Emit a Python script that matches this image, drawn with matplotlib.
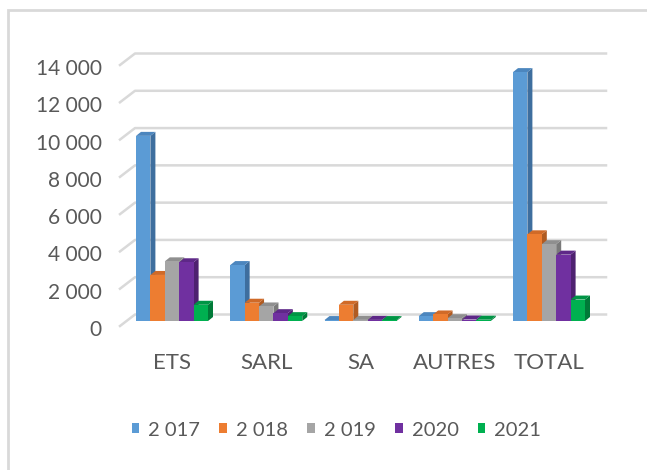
import matplotlib
matplotlib.use("Agg")
import matplotlib.pyplot as plt
from matplotlib.patches import Polygon, Rectangle
from matplotlib.transforms import ScaledTranslation

# data
categories = ["ETS", "SARL", "SA", "AUTRES", "TOTAL"]
series_labels = ["2 017", "2 018", "2 019", "2020", "2021"]
y2017 = [9930, 3000, 50, 260, 13350]
y2018 = [2470, 980, 870, 350, 4650]
y2019 = [3200, 780, 60, 150, 4120]
y2020 = [3150, 420, 60, 80, 3560]
y2021 = [870, 260, 50, 70, 1150]
yticks = [0, 2000, 4000, 6000, 8000, 10000, 12000, 14000]

series = [y2017, y2018, y2019, y2020, y2021]
front_colors = ["#5B9BD5", "#ED7D31", "#A5A5A5", "#7030A0", "#00B050"]
side_colors = ["#3E6E9E", "#B05B22", "#7A7A7A", "#4E2170", "#007A38"]
top_colors = ["#4C86BE", "#D06A28", "#8F8F8F", "#5E2888", "#009545"]

plt.rcParams["font.family"] = ["Lato", "DejaVu Sans"]
text_color = "#595959"

W, H = 647, 470
fig = plt.figure(figsize=(W / 100, H / 100), dpi=100)

# chart border
fig.patches.append(Rectangle((8 / W, -0.01), 1.0, (H - 10) / H + 0.01,
                             transform=fig.transFigure, fill=False,
                             edgecolor="#D9D9D9", linewidth=2))

# axes = plane of the bar fronts
L, R, B, T = 120, 598, 149, 410
ax = fig.add_axes([L / W, B / H, (R - L) / W, (T - B) / H])
cat_px = 94.25
x0 = -(172 - L) / cat_px
x1 = x0 + (R - L) / cat_px
ax.set_xlim(x0, x1)
ax.set_ylim(0, 14000)
sx = cat_px                       # px per category
sy = (T - B) / 14000              # px per unit

for s in ax.spines.values():
    s.set_visible(False)

# back wall gridlines with a short diagonal at the left
for v in yticks:
    fx, fy = x0, v - 5 / sy
    bx, by = x0 + 15 / sx, v + 6.5 / sy
    ax.plot([fx, bx, x1 + 8 / sx], [fy, by, by], color="#D9D9D9",
            lw=1.8, zorder=0, clip_on=False)

# 3D-looking bars
n = len(series)
w = 14.4 / sx
ddx, ddy = 5 / sx, 4 / sy
for j, vals in enumerate(series):
    for i, v in enumerate(vals):
        left = i + (j - n / 2) * w
        right = left + w
        side = [(right, 0), (right + ddx, ddy), (right + ddx, v + ddy), (right, v)]
        top = [(left, v), (left + ddx, v + ddy), (right + ddx, v + ddy), (right, v)]
        ax.add_patch(Polygon(side, closed=True, facecolor=side_colors[j],
                             edgecolor="none", zorder=2 + j, clip_on=False))
        ax.add_patch(Polygon(top, closed=True, facecolor=top_colors[j],
                             edgecolor="none", zorder=2 + j, clip_on=False))
        ax.add_patch(Rectangle((left, 0), w, v, facecolor=front_colors[j],
                               edgecolor="none", zorder=2 + j, clip_on=False))

ax.set_yticks(yticks)
ax.set_yticklabels([f"{t:,}".replace(",", " ") for t in yticks])
ax.set_xticks(range(len(categories)))
ax.set_xticklabels(categories)
ax.tick_params(axis="y", length=0, pad=13, labelsize=15, labelcolor=text_color)
ax.tick_params(axis="x", length=0, pad=23, labelsize=16, labelcolor=text_color)
for lab in ax.get_yticklabels():
    lab.set_transform(lab.get_transform() + ScaledTranslation(0, -0.07, fig.dpi_scale_trans))

handles = [Rectangle((0, 0), 1, 1, facecolor=c) for c in front_colors]
fig.legend(handles, series_labels, loc="center", bbox_to_anchor=(0.52, 0.085),
           ncol=5, frameon=False, fontsize=14.5, labelcolor=text_color,
           handlelength=0.38, handleheight=0.38, handletextpad=0.45,
           columnspacing=0.95)

fig.savefig("out.png", dpi=100)
